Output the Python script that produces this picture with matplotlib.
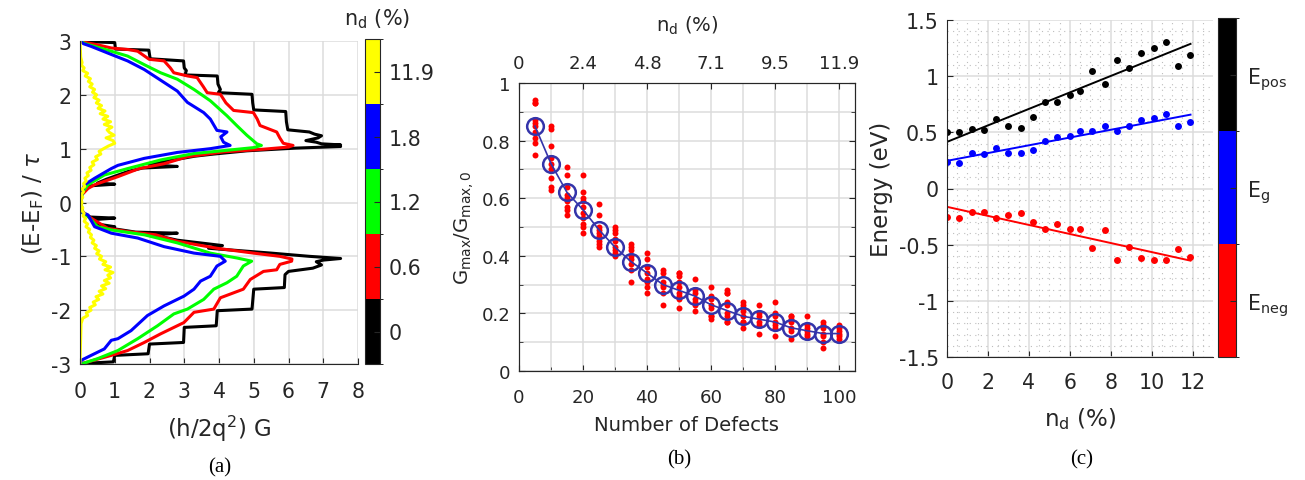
import numpy as np
import matplotlib
matplotlib.use('Agg')
import matplotlib.pyplot as plt
from matplotlib.colors import ListedColormap, BoundaryNorm
from matplotlib.cm import ScalarMappable
from matplotlib.ticker import MultipleLocator

plt.rcParams['font.family'] = ['DejaVu Sans']
plt.rcParams['mathtext.fontset'] = 'dejavusans'
plt.rcParams['mathtext.default'] = 'regular'
plt.rcParams['axes.unicode_minus'] = False

INK = '#262626'
GRID = '#dcdcdc'

# ---------------- panel (a): conductance vs energy ----------------
nd_a_labels = ['0', '0.6', '1.2', '1.8', '11.9']
colors_a = ['black', 'red', 'lime', 'blue', 'yellow']

e_black = [3.00, 2.98, 2.97, 2.85, 2.83, 2.67, 2.63, 2.50, 2.45, 2.37, 2.35, 2.20, 2.10, 2.04,
           2.01, 1.85, 1.72, 1.69, 1.50, 1.35, 1.31, 1.27, 1.24, 1.20, 1.15, 1.12, 1.09, 1.07,
           1.05, 1.04, 1.01, 0.96, 0.90, 0.86, 0.78, 0.70, 0.67, 0.64, 0.58, 0.50, 0.43, 0.36,
           0.34, 0.31, 0.26, 0.15, 0.00, -0.15, -0.20, -0.27, -0.29, -0.32, -0.40, -0.45, -0.48,
           -0.55, -0.57, -0.60, -0.70, -0.80, -0.85, -0.94, -1.00, -1.04, -1.07, -1.10, -1.16,
           -1.22, -1.28, -1.34, -1.58, -1.61, -1.98, -2.01, -2.29, -2.32, -2.60, -2.63, -2.81,
           -2.84, -2.96, -2.99, -3.00]
g_black = [0.00, 0.55, 1.00, 1.02, 1.98, 2.02, 2.98, 3.00, 3.06, 3.02, 3.95, 3.97, 4.04, 3.98,
           4.95, 4.97, 5.00, 5.92, 5.94, 5.98, 6.60, 6.75, 6.95, 6.85, 6.50, 6.80, 6.95, 7.50,
           7.20, 7.50, 6.20, 4.80, 3.85, 3.30, 2.60, 2.00, 2.80, 1.80, 1.40, 1.05, 0.75, 0.50,
           1.00, 0.30, 0.12, 0.05, 0.03, 0.05, 0.10, 0.30, 1.00, 0.35, 0.50, 1.00, 0.90,
           1.60, 2.80, 2.10, 2.80, 4.10, 3.70, 5.50, 6.60, 7.50, 7.00, 6.80, 6.95,
           6.70, 6.00, 5.90, 5.88, 5.00, 4.95, 3.95, 3.92, 3.00, 2.98, 2.00, 1.96,
           1.00, 0.96, 0.05, 0.00]

e_red = [3.00, 2.98, 2.93, 2.87, 2.84, 2.81, 2.66, 2.63, 2.50, 2.41, 2.35, 2.32, 2.15, 2.04,
         2.01, 1.85, 1.71, 1.67, 1.55, 1.43, 1.31, 1.20, 1.10, 1.06, 1.03, 0.99, 0.94, 0.85,
         0.72, 0.63, 0.48, 0.33, 0.26, 0.14, 0.00, -0.14, -0.22, -0.29, -0.48, -0.54, -0.60,
         -0.72, -0.85, -0.94, -1.00, -1.05, -1.09, -1.15, -1.25, -1.28, -1.43, -1.61, -1.77,
         -1.98, -2.04, -2.23, -2.44, -2.60, -2.75, -2.84, -2.96, -3.00]
g_red = [0.00, 0.10, 0.50, 0.90, 1.40, 1.66, 1.99, 2.42, 2.60, 2.70, 3.10, 3.37, 3.55, 3.66,
         4.04, 4.20, 4.42, 4.99, 5.10, 5.18, 5.66, 5.75, 5.85, 6.13, 6.00, 5.28, 4.13, 3.09,
         2.42, 1.70, 1.09, 0.42, 0.23, 0.05, 0.03, 0.05, 0.15, 0.32, 0.80, 1.37, 2.18,
         2.80, 3.94, 4.99, 5.75, 6.10, 6.09, 5.75, 5.66, 5.28, 4.90, 4.70, 4.04,
         3.85, 3.28, 2.99, 2.32, 1.85, 1.37, 0.90, 0.23, 0.00]

e_green = [3.00, 2.95, 2.90, 2.81, 2.72, 2.56, 2.41, 2.29, 2.10, 1.89, 1.61, 1.43, 1.25, 1.09,
           1.06, 1.02, 0.97, 0.91, 0.79, 0.63, 0.51, 0.33, 0.20, 0.00, -0.20, -0.26, -0.45,
           -0.51, -0.60, -0.75, -0.94, -1.03, -1.09, -1.18, -1.37, -1.49, -1.61, -1.80, -1.98,
           -2.07, -2.29, -2.53, -2.75, -2.90, -2.98, -3.00]
g_green = [0.00, 0.15, 0.42, 0.90, 1.37, 1.85, 2.32, 2.80, 3.28, 3.75, 4.23, 4.51, 4.80, 5.09,
           5.22, 5.00, 4.23, 3.28, 2.32, 1.37, 0.70, 0.23, 0.08, 0.03, 0.08, 0.23, 0.51,
           0.90, 1.85, 2.80, 3.75, 4.51, 4.94, 4.70, 4.51, 4.23, 3.85, 3.56, 3.09,
           2.70, 2.23, 1.66, 1.09, 0.51, 0.13, 0.00]

e_blue = [3.00, 2.95, 2.90, 2.75, 2.63, 2.47, 2.23, 2.07, 1.86, 1.67, 1.55, 1.34, 1.31, 1.22,
          1.12, 1.06, 1.00, 0.93, 0.82, 0.69, 0.63, 0.45, 0.33, 0.20, 0.00, -0.18, -0.23,
          -0.45, -0.57, -0.66, -0.82, -0.94, -1.00, -1.09, -1.18, -1.37, -1.46, -1.61, -1.74,
          -1.92, -2.10, -2.38, -2.53, -2.56, -2.72, -2.84, -2.93, -3.00]
g_blue = [0.00, 0.10, 0.32, 0.90, 1.37, 1.85, 2.42, 2.80, 3.09, 3.56, 3.75, 3.94, 4.23, 4.05,
          4.13, 4.32, 3.75, 2.80, 1.85, 1.09, 0.90, 0.42, 0.13, 0.06, 0.03, 0.06, 0.23,
          0.42, 0.90, 1.66, 2.42, 3.28, 4.04, 4.18, 3.94, 3.75, 3.47, 3.28, 2.99,
          2.42, 1.94, 1.47, 1.09, 0.90, 0.70, 0.32, 0.04, 0.00]

e_yellow = [3.00, 2.70, 2.60, 2.55, 2.50, 2.45, 2.40, 2.35, 2.30, 2.25, 2.20, 2.15, 2.10, 2.05,
            2.00, 1.95, 1.90, 1.85, 1.80, 1.75, 1.70, 1.65, 1.60, 1.55, 1.50, 1.45, 1.40, 1.35,
            1.30, 1.25, 1.20, 1.15, 1.10, 1.05, 1.00, 0.95, 0.90, 0.85, 0.80, 0.75, 0.70, 0.65,
            0.60, 0.55, 0.50, 0.45, 0.40, 0.35, 0.30, 0.25, 0.20, 0.15, 0.10, 0.05, 0.00,
            -0.05, -0.10, -0.15, -0.20, -0.25, -0.30, -0.35, -0.40, -0.45, -0.50, -0.55, -0.60,
            -0.65, -0.70, -0.75, -0.80, -0.85, -0.90, -0.95, -1.00, -1.05, -1.10, -1.15, -1.20,
            -1.25, -1.30, -1.35, -1.40, -1.45, -1.50, -1.55, -1.60, -1.65, -1.70, -1.75, -1.80,
            -1.85, -1.90, -1.95, -2.00, -2.05, -2.10, -2.15, -2.25, -2.50, -3.00]
g_yellow = [0.00, 0.02, 0.06, 0.04, 0.12, 0.08, 0.22, 0.15, 0.30, 0.24, 0.35, 0.28, 0.42, 0.36,
            0.48, 0.40, 0.55, 0.47, 0.62, 0.52, 0.72, 0.58, 0.80, 0.66, 0.88, 0.70, 0.92, 0.78,
            0.85, 0.98, 0.75, 0.95, 1.00, 0.82, 0.68, 0.55, 0.60, 0.45, 0.50, 0.35, 0.40, 0.28,
            0.32, 0.20, 0.24, 0.14, 0.18, 0.10, 0.14, 0.06, 0.10, 0.04, 0.08, 0.03, 0.06,
            0.03, 0.08, 0.05, 0.12, 0.09, 0.16, 0.12, 0.22, 0.17, 0.28, 0.24, 0.33,
            0.30, 0.40, 0.35, 0.47, 0.42, 0.55, 0.48, 0.62, 0.56, 0.74, 0.66, 0.88,
            0.72, 0.95, 0.80, 0.88, 0.70, 0.84, 0.62, 0.74, 0.55, 0.66, 0.46, 0.54,
            0.38, 0.44, 0.28, 0.32, 0.18, 0.22, 0.08, 0.03, 0.02, 0.00]

curves_a = [(g_black, e_black), (g_red, e_red), (g_green, e_green),
            (g_blue, e_blue), (g_yellow, e_yellow)]

# ---------------- panel (b): peak conductance vs defects ----------------
defects = [5, 10, 15, 20, 25, 30, 35, 40, 45, 50, 55, 60, 65, 70, 75, 80, 85, 90, 95, 100]
g_mean = [0.85, 0.72, 0.62, 0.56, 0.49, 0.43, 0.38, 0.34, 0.30, 0.28, 0.26, 0.23, 0.21, 0.19,
          0.18, 0.17, 0.15, 0.14, 0.13, 0.13]
g_samples = [
    [0.94, 0.93, 0.93, 0.87, 0.86, 0.85, 0.83, 0.81, 0.79, 0.75],
    [0.85, 0.84, 0.78, 0.74, 0.72, 0.70, 0.67, 0.64, 0.63],
    [0.71, 0.68, 0.64, 0.61, 0.60, 0.59, 0.57, 0.56, 0.54],
    [0.68, 0.62, 0.60, 0.59, 0.57, 0.55, 0.53, 0.51, 0.50, 0.48],
    [0.58, 0.54, 0.50, 0.49, 0.48, 0.47, 0.45, 0.44, 0.43],
    [0.50, 0.49, 0.48, 0.46, 0.45, 0.43, 0.42, 0.41, 0.40],
    [0.44, 0.43, 0.42, 0.40, 0.39, 0.37, 0.35, 0.31],
    [0.41, 0.39, 0.36, 0.34, 0.32, 0.31, 0.29, 0.27],
    [0.35, 0.34, 0.31, 0.30, 0.29, 0.27, 0.23],
    [0.34, 0.34, 0.33, 0.31, 0.29, 0.27, 0.26, 0.25, 0.22],
    [0.32, 0.28, 0.27, 0.25, 0.24, 0.23, 0.21],
    [0.29, 0.26, 0.25, 0.23, 0.22, 0.19, 0.19, 0.18],
    [0.28, 0.27, 0.27, 0.24, 0.23, 0.20, 0.19, 0.17, 0.17],
    [0.24, 0.23, 0.22, 0.21, 0.19, 0.17, 0.17, 0.15],
    [0.23, 0.20, 0.19, 0.17, 0.16, 0.13],
    [0.24, 0.20, 0.19, 0.17, 0.16, 0.15, 0.12],
    [0.19, 0.19, 0.18, 0.17, 0.15, 0.14, 0.11],
    [0.19, 0.16, 0.15, 0.14, 0.13, 0.12],
    [0.17, 0.16, 0.15, 0.13, 0.12, 0.10, 0.08],
    [0.16, 0.15, 0.14, 0.13, 0.12, 0.11],
]
top_ticks = [0, 20, 40, 60, 80, 100]
top_labels = ['0', '2.4', '4.8', '7.1', '9.5', '11.9']

# ---------------- panel (c): band energies vs defect density ----------------
nd = [0, 0.6, 1.2, 1.8, 2.4, 3.0, 3.6, 4.2, 4.8, 5.4, 6.0, 6.5, 7.1, 7.7, 8.3, 8.9, 9.5,
      10.1, 10.7, 11.3, 11.9]
e_pos = [0.50, 0.50, 0.53, 0.52, 0.62, 0.56, 0.54, 0.64, 0.77, 0.77, 0.83, 0.87, 1.05, 0.93,
         1.14, 1.07, 1.21, 1.25, 1.30, 1.09, 1.19]
e_g = [0.24, 0.23, 0.32, 0.31, 0.36, 0.32, 0.32, 0.34, 0.42, 0.46, 0.47, 0.51, 0.51, 0.56,
       0.51, 0.56, 0.61, 0.63, 0.66, 0.56, 0.59]
e_neg = [-0.25, -0.26, -0.21, -0.21, -0.26, -0.24, -0.22, -0.30, -0.36, -0.32, -0.36, -0.36,
         -0.53, -0.37, -0.64, -0.52, -0.62, -0.64, -0.64, -0.54, -0.61]
labels_c = [r'$E_{neg}$', r'$E_g$', r'$E_{pos}$']
colors_c = ['red', 'blue', 'black']


def style(ax, size, box=False):
    ax.tick_params(direction='in', labelsize=size, colors=INK, length=4, width=0.8,
                   top=box, right=box)
    for side, sp in ax.spines.items():
        sp.set_color(INK)
        sp.set_linewidth(0.8)
        if not box and side in ('top', 'right'):
            sp.set_visible(False)
    ax.set_axisbelow(True)


fig = plt.figure(figsize=(13.05, 4.81), dpi=100)
W, H = 1305.0, 481.0


def box(l, t, r, b):
    return [l / W, 1 - b / H, (r - l) / W, (b - t) / H]


# ---- (a)
ax = fig.add_axes(box(80, 42, 358, 365))
for (g, e), c in zip(curves_a, colors_a):
    ax.plot(g, e, color=c, lw=2.2)
ax.set_xlim(0, 8)
ax.set_ylim(-3, 3)
ax.set_xticks(range(0, 9))
ax.set_yticks(range(-3, 4))
ax.grid(True, color=GRID, lw=1.1)
style(ax, 14.8)
ax.tick_params(axis='x', pad=12)
ax.tick_params(axis='y', pad=6)
ax.set_xlabel(r'(h/2q$^2$) G', fontsize=16.5, color=INK, labelpad=9)
ax.set_ylabel(r'(E-E$_F$) / $\mathit{\tau}$', fontsize=16.5, color=INK, labelpad=4)

cax = fig.add_axes(box(365, 40, 380, 365))
cb = fig.colorbar(ScalarMappable(norm=BoundaryNorm(range(6), 5), cmap=ListedColormap(colors_a)),
                  cax=cax, ticks=[0.5, 1.5, 2.5, 3.5, 4.5])
cb.set_ticklabels(nd_a_labels)
cax.tick_params(labelsize=14.8, direction='in', length=4, colors=INK, pad=6)
cb.outline.set_edgecolor(INK)
fig.text(377 / W, 1 - 19 / H, r'$n_d$ (%)', ha='center', va='center', fontsize=15, color=INK)

# ---- (b)
bx = fig.add_axes(box(519, 84, 855, 372))
for x, ys in zip(defects, g_samples):
    bx.plot([x] * len(ys), ys, 'o', color='red', ms=4.3, mec='none')
bx.plot(defects, g_mean, '-o', color='#3434aa', lw=1.2, ms=12, mfc='none', mew=1.8)
bx.set_xlim(0, 105)
bx.set_ylim(0, 1)
bx.set_xticks(range(0, 101, 20))
bx.set_yticks([0, 0.2, 0.4, 0.6, 0.8, 1])
bx.set_yticklabels(['0', '0.2', '0.4', '0.6', '0.8', '1'])
bx.xaxis.set_minor_locator(MultipleLocator(10))
bx.yaxis.set_minor_locator(MultipleLocator(0.1))
bx.grid(True, which='both', color=GRID, lw=1.1)
style(bx, 13.1, box=True)
bx.tick_params(which='minor', direction='in', length=3, top=True, right=True, color=INK)
bx.tick_params(axis='x', pad=12)
bx.tick_params(axis='y', pad=6)
bx.set_xlabel('Number of Defects', fontsize=14.1, color=INK, labelpad=7)
bx.set_ylabel(r'$G_{max}/G_{max,0}$', fontsize=14.1, color=INK, labelpad=4)
tx = bx.twiny()
tx.set_xlim(bx.get_xlim())
tx.set_xticks(top_ticks)
tx.set_xticklabels(top_labels)
tx.tick_params(direction='in', labelsize=13.1, colors=INK, length=4, pad=8)
tx.set_xlabel(r'$n_d$ (%)', fontsize=14.1, color=INK, labelpad=17)
for sp in tx.spines.values():
    sp.set_color(INK)
    sp.set_linewidth(0.8)

# ---- (c)
cx = fig.add_axes(box(947, 21, 1213, 358))
for ys, c in zip([e_neg, e_g, e_pos], colors_c):
    k, b0 = np.polyfit(nd, ys, 1)
    xs = np.array([nd[0], nd[-1]])
    cx.plot(xs, k * xs + b0, color=c, lw=1.4)
    cx.plot(nd, ys, 'o', color=c, ms=5, mec='none')
cx.set_xlim(0, 13)
cx.set_ylim(-1.5, 1.5)
cx.set_xticks(range(0, 13, 2))
cx.set_yticks([-1.5, -1, -0.5, 0, 0.5, 1, 1.5])
cx.set_yticklabels(['-1.5', '-1', '-0.5', '0', '0.5', '1', '1.5'])
cx.xaxis.set_minor_locator(MultipleLocator(0.5))
cx.yaxis.set_minor_locator(MultipleLocator(0.1))
cx.grid(True, which='major', color=GRID, lw=1.1)
cx.grid(True, which='minor', color='#bdbdbd', lw=0.8, linestyle=(0, (1, 4)))
style(cx, 14.8)
cx.tick_params(which='minor', length=0)
cx.tick_params(axis='x', pad=11)
cx.tick_params(axis='y', pad=6)
cx.set_xlabel(r'$n_d$ (%)', fontsize=16.5, color=INK, labelpad=9)
cx.set_ylabel('Energy (eV)', fontsize=16.5, color=INK, labelpad=4)

ccax = fig.add_axes(box(1218, 19, 1236, 358))
cb2 = fig.colorbar(ScalarMappable(norm=BoundaryNorm(range(4), 3), cmap=ListedColormap(colors_c)),
                   cax=ccax, ticks=[0.5, 1.5, 2.5])
cb2.set_ticklabels(labels_c)
ccax.tick_params(labelsize=14.8, direction='in', length=4, colors=INK, pad=8)
cb2.outline.set_edgecolor(INK)

# captions
for x, y, s in [(220, 468, '(a)'), (679, 460, '(b)'), (1082, 460, '(c)')]:
    fig.text(x / W, 1 - y / H, s, ha='center', va='center', fontsize=15,
             family='Liberation Serif', color='black')

fig.savefig('out.png', dpi=100)
